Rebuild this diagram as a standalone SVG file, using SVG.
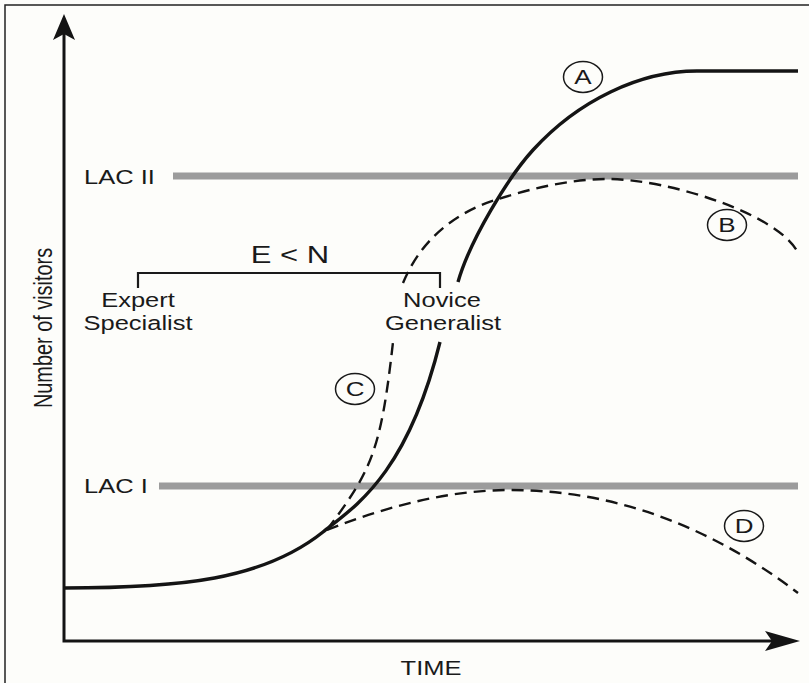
<svg xmlns="http://www.w3.org/2000/svg" width="809" height="683" viewBox="0 0 809 683">
<style>
text{font-family:"Liberation Sans",Arial,sans-serif;fill:#1a1a1a}
.lbl{font-size:25.5px}
.big{font-size:31px}
.let{font-size:26px}
.c{text-anchor:middle}
.solid{fill:none;stroke:#141414;stroke-width:3.4}
.dash{fill:none;stroke:#141414;stroke-width:2.4;stroke-dasharray:12 7}
.lac{stroke:#9c9c9c;stroke-width:7}
.ring{fill:none;stroke:#1a1a1a;stroke-width:1.5}
.axis{stroke:#141414;stroke-width:3;fill:none}
.brk{stroke:#1a1a1a;stroke-width:2.2;fill:none}
</style>
<rect x="0" y="0" width="809" height="683" fill="#fdfdfa"/>
<rect x="5" y="5" width="850" height="750" fill="none" stroke="#222" stroke-width="1.5"/>

<g id="axes">
<path class="axis" d="M64,30 V641 H775"/>
<path d="M64,14 L75,40 L64,34 L53,40 Z" fill="#141414"/>
<path d="M800,641 L765,631 L772,641 L765,651 Z" fill="#141414"/>
<text class="lbl c" transform="translate(52,328) scale(1,0.78) rotate(-90)">Number of visitors</text>
<text class="lbl c" transform="translate(431,675) scale(1,0.78)">TIME</text>
</g>

<g id="lac2">
<line class="lac" x1="173" y1="176" x2="798" y2="176"/>
<text class="lbl" transform="translate(84,184) scale(1,0.78)">LAC II</text>
</g>
<g id="lac1">
<line class="lac" x1="159" y1="486" x2="798" y2="486"/>
<text class="lbl" transform="translate(84,493) scale(1,0.78)">LAC I</text>
</g>

<g id="bracket">
<path class="brk" d="M138,288 V273 H440 V288"/>
<text class="big c" transform="translate(290,263) scale(1,0.78)">E &lt; N</text>
</g>
<g id="expert">
<text class="lbl c" transform="translate(138,307) scale(1,0.78)">Expert</text>
<text class="lbl c" transform="translate(138,330) scale(1,0.78)">Specialist</text>
</g>
<g id="novice">
<text class="lbl c" transform="translate(442,307) scale(1,0.78)">Novice</text>
<text class="lbl c" transform="translate(443,330) scale(1,0.78)">Generalist</text>
</g>

<g id="connectors">
<path class="solid" d="M64,588 C180,588 263,580 323,532 C355,506.4 407,475 440,342"/>
<path class="solid" d="M458,282 C470,240 508,177.5 533,150 C578,100.5 640,71 697,71 H798"/>
<path class="dash" d="M327,530 C371.3,470.2 380.7,452.7 393,342"/>
<path class="dash" d="M403,283 C423,235 460,211.4 495,200 C530,188.8 570,179 607,179 C670,179 780,215 798,253"/>
<path class="dash" d="M327,530 C387,506 450,490 510,490 C620,490 715,530 798,593"/>
</g>

<g id="labelA">
<ellipse class="ring" cx="583" cy="77" rx="19.5" ry="15.5"/>
<text class="let c" transform="translate(583,84.3) scale(1,0.78)">A</text>
</g>
<g id="labelB">
<ellipse class="ring" cx="727" cy="225" rx="19.5" ry="15.5"/>
<text class="let c" transform="translate(727,232.3) scale(1,0.78)">B</text>
</g>
<g id="labelC">
<ellipse class="ring" cx="355" cy="389" rx="19.5" ry="15.5"/>
<text class="let c" transform="translate(355,396.3) scale(1,0.78)">C</text>
</g>
<g id="labelD">
<ellipse class="ring" cx="744" cy="526" rx="19.5" ry="15.5"/>
<text class="let c" transform="translate(744,533.3) scale(1,0.78)">D</text>
</g>
</svg>
